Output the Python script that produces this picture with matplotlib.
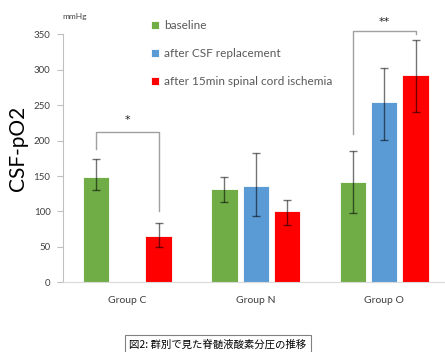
import matplotlib
matplotlib.use("Agg")
import matplotlib.pyplot as plt
import numpy as np

plt.rcParams['font.family'] = ['Lato', 'DejaVu Sans']

groups = ["Group C", "Group N", "Group O"]
series = ["baseline", "after CSF replacement", "after 15min spinal cord ischemia"]
colors = ["#70AD47", "#5B9BD5", "#FF0000"]
values = {
    "baseline": [149, 131, 141],
    "after CSF replacement": [np.nan, 136, 254],
    "after 15min spinal cord ischemia": [66, 100, 292],
}
err_low = {
    "baseline": [130, 113, 98],
    "after CSF replacement": [np.nan, 94, 201],
    "after 15min spinal cord ischemia": [50, 81, 240],
}
err_high = {
    "baseline": [174, 148, 186],
    "after CSF replacement": [np.nan, 182, 302],
    "after 15min spinal cord ischemia": [84, 116, 342],
}
yticks = [0, 50, 100, 150, 200, 250, 300, 350]

W, H = 445, 352
fig = plt.figure(figsize=(W / 100, H / 100), dpi=100)
ax = fig.add_axes([63 / W, (H - 282.3) / H, 385.5 / W, 248 / H])
ax.set_xlim(-0.5, 2.5)
ax.set_ylim(0, 350)

x = np.arange(len(groups))
bw = 0.206
off = 0.245
for i, s in enumerate(series):
    xs = x + (i - 1) * off
    v = np.array(values[s], dtype=float)
    lo = np.array(err_low[s], dtype=float)
    hi = np.array(err_high[s], dtype=float)
    ax.bar(xs, v, width=bw, color=colors[i], edgecolor="white", linewidth=0.6,
           label=s, zorder=2)
    ax.errorbar(xs, v, yerr=[v - lo, hi - v], fmt="none", ecolor="black",
                alpha=0.55, elinewidth=1, capsize=3, capthick=1, zorder=3)

# significance brackets
bc = "#a0a0a0"
def bracket(x1, x2, y1, y2, ytop, label, ylab):
    ax.plot([x1, x1, x2, x2], [y1, ytop, ytop, y2], color=bc, lw=1,
            clip_on=False, zorder=4)
    ax.text((x1 + x2) / 2, ylab, label, ha="center", va="center",
            fontsize=8, color="#222222", clip_on=False, family="DejaVu Sans")

bracket(0 - off, 0 + off, 188, 101, 212, "*", 229)
bracket(2 - off, 2 + off, 209, 350, 354, "**", 368)

ax.spines["top"].set_visible(False)
ax.spines["right"].set_visible(False)
ax.spines["left"].set_color("#bfbfbf")
ax.spines["bottom"].set_color("#d9d9d9")
ax.set_yticks(yticks)
ax.set_xticks(x)
ax.set_xticklabels(groups, fontsize=7.5, color="#404040")
ax.tick_params(axis="y", labelsize=7, colors="#404040", length=4, color="#bfbfbf", pad=5)
ax.tick_params(axis="x", length=0, pad=10)

fig.text(18 / W, 1 - 148 / H, "CSF-pO2", fontsize=15, color="black",
         rotation=90, ha="center", va="center")
fig.text(75 / W, 1 - 17 / H, "mmHg", fontsize=6, color="#404040", ha="center", va="center")

leg = ax.legend(loc="upper left", bbox_to_anchor=(145 / W, 1 - 14 / H),
                bbox_transform=fig.transFigure, frameon=False, fontsize=8.5,
                handlelength=0.7, handleheight=0.7, handletextpad=0.4,
                labelspacing=1.45, borderpad=0)
for t in leg.get_texts():
    t.set_color("#595959")

fig.text(218 / W, 1 - 345 / H, "図2: 群別で見た脊髄液酸素分圧の推移", fontsize=7.5,
         ha="center", va="center",
         family=["Noto Sans CJK JP", "DejaVu Sans"],
         bbox=dict(boxstyle="square,pad=0.45", facecolor="white", edgecolor="#808080", linewidth=0.8))

fig.savefig("out.png", dpi=100)
